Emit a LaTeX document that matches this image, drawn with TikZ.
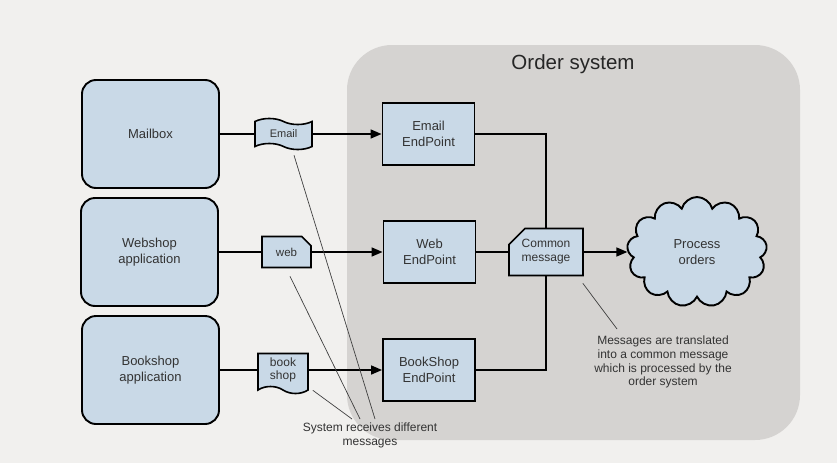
\documentclass[tikz,border=0pt]{standalone}
\usepackage{fontspec}
\setmainfont{Liberation Sans}
\usetikzlibrary{shapes.symbols,shapes.misc,arrows.meta,calc}
\definecolor{bg}{HTML}{F1F0EE}
\definecolor{region}{HTML}{D5D3D1}
\definecolor{boxfill}{HTML}{C9D9E7}
\definecolor{txt}{HTML}{333333}
\begin{document}
\begin{tikzpicture}[x=1pt,y=-1pt,
 app/.style={draw=black, line width=1.9pt, fill=boxfill, rounded corners=14pt, minimum width=137pt, minimum height=108pt, align=center, font=\fontsize{13}{16}\selectfont, text=txt, inner sep=0pt},
 endp/.style={draw=black, line width=1.9pt, fill=boxfill, minimum width=92pt, minimum height=62pt, align=center, font=\fontsize{13}{16.5}\selectfont, text=txt, inner sep=0pt},
 msg/.style={draw=black, line width=1.6pt, fill=boxfill, align=center, text=txt, inner sep=0pt},
 conn/.style={line width=1.6pt, draw=black},
 arr/.style={conn, -{Triangle[length=11pt,width=9pt]}},
 note/.style={draw=black!75, line width=0.7pt},
 notetext/.style={align=center, text=txt, font=\fontsize{12}{13.8}\selectfont, inner sep=0pt}
]
\fill[bg] (0,0) rectangle (837,463);
\useasboundingbox (0,0) rectangle (837,463);
\fill[region, rounded corners=45pt] (347,45) rectangle (800,440);
\node[font=\fontsize{20.5}{24}\selectfont, text=black!85] (title) at (573,64) {Order system};

\node[app] (mailbox) at (150.5,134) {Mailbox};
\node[app] (webshop) at (149.5,252) {Webshop\\application};
\node[app] (bookshop) at (150.5,370) {Bookshop\\application};

\node[msg, tape, tape bend top=out and in, tape bend bottom=out and in, tape bend height=6pt, minimum width=57pt, minimum height=31pt, font=\fontsize{11}{13}\selectfont] (email) at (283.5,134) {Email};
\node[msg, chamfered rectangle, chamfered rectangle corners=north east, chamfered rectangle xsep=5pt, chamfered rectangle ysep=5pt, minimum width=49pt, minimum height=31pt, font=\fontsize{11.5}{13}\selectfont] (web) at (286.5,252) {web};
\node[msg, tape, tape bend top=none, tape bend bottom=out and in, tape bend height=7pt, minimum width=50pt, minimum height=40pt, font=\fontsize{12}{13.5}\selectfont] (book) at (283,370) {book\\shop};

\node[endp] (emailep) at (428.5,134) {Email\\EndPoint};
\node[endp] (webep) at (429.5,252) {Web\\EndPoint};
\node[endp] (bookep) at (429,370) {BookShop\\EndPoint};

\node[msg, chamfered rectangle, chamfered rectangle corners=north west, chamfered rectangle xsep=8pt, chamfered rectangle ysep=8pt, minimum width=74pt, minimum height=47pt, font=\fontsize{12}{14}\selectfont] (common) at (546,252) {Common\\message};

\node[msg, line width=1.9pt, cloud, cloud puffs=13, aspect=1.3, minimum width=140pt, minimum height=110pt, font=\fontsize{13}{16}\selectfont] (proc) at (697,252) {Process\\orders};

\draw[conn] (mailbox.east) -- (email.west);
\draw[arr] (email.east) -- (emailep.west);
\draw[conn] (webshop.east) -- (web.west);
\draw[arr] (web.east) -- (webep.west);
\draw[conn] (bookshop.east) -- (book.west);
\draw[arr] (book.east) -- (bookep.west);
\draw[conn] (emailep.east) -| (common.north);
\draw[conn] (webep.east) -- (common.west);
\draw[conn] (bookep.east) -| (common.south);
\draw[arr] (common.east) -- (proc.west);

\node[notetext] (sysnote) at (370,435) {System receives different\\messages};
\node[notetext] (msgnote) at (663,362) {Messages are translated\\into a common message\\which is processed by the\\order system};
\coordinate (n1) at (375,419);
\coordinate (n2) at (360,419);
\coordinate (n3) at (352,419);
\coordinate (n4) at (617,329);
\draw[note] ($(email.south)+(10.5,8)$) -- (n1);
\draw[note] ($(web.south)+(3.5,8)$) -- (n2);
\draw[note] ($(book.south east)+(4,3)$) -- (n3);
\draw[note] ($(common.south east)+(-1,7)$) -- (n4);
\end{tikzpicture}
\end{document}
